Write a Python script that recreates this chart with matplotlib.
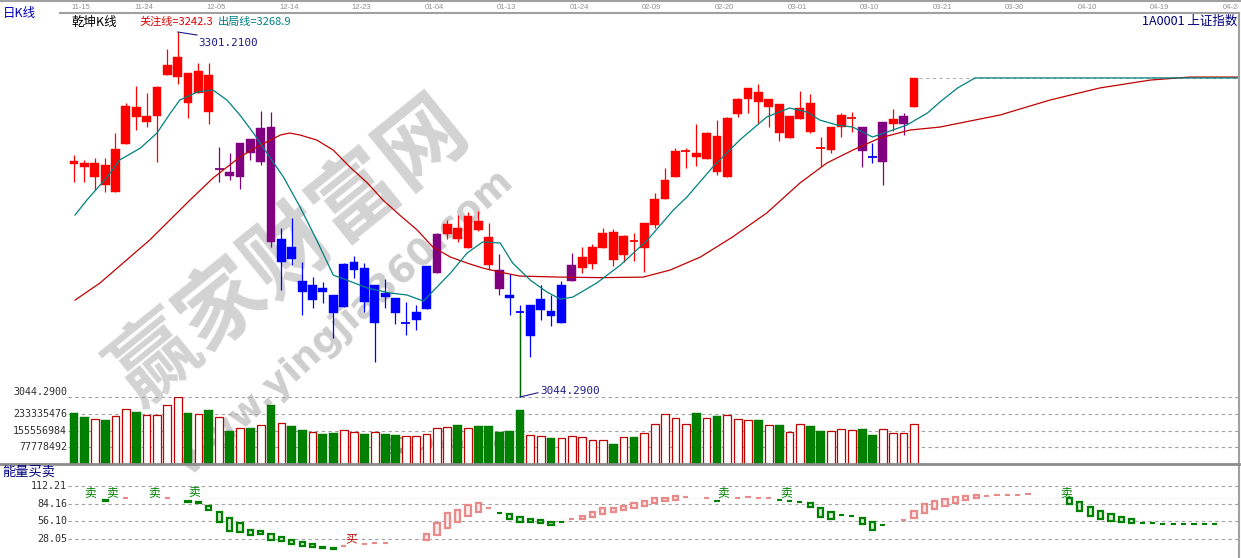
import numpy as np
import matplotlib
matplotlib.use("Agg")
import matplotlib.pyplot as plt
from matplotlib.patches import Rectangle
from matplotlib.lines import Line2D
from matplotlib.transforms import blended_transform_factory

plt.rcParams['font.family'] = ['Noto Sans CJK SC', 'DejaVu Sans']

# ---------------- data ----------------
date_labels = ['11-15', '11-24', '12-05', '12-14', '12-23', '01-04', '01-13', '01-24',
               '02-09', '02-20', '03-01', '03-10', '03-21', '03-30', '04-10', '04-19', '04-28']
date_step = 7

opens = [3210.4, 3209.0, 3199.1, 3207.6, 3188.6, 3222.4, 3248.4, 3237.9, 3242.1, 3271.0,
         3269.5, 3272.3, 3258.3, 3270.9, 3204.1, 3202.7, 3199.1, 3225.9, 3209.7, 3234.3,
         3139.3, 3149.9, 3125.9, 3112.5, 3121.0, 3116.1, 3107.6, 3133.7, 3135.1, 3096.3,
         3117.5, 3113.9, 3095.6, 3098.5, 3106.2, 3131.5, 3159.0, 3163.2, 3149.2, 3168.2,
         3156.9, 3133.7, 3116.1, 3104.8, 3087.2, 3105.5, 3104.8, 3096.3, 3126.0, 3135.1,
         3137.9, 3149.2, 3160.4, 3144.2, 3154.8, 3149.2, 3165.3, 3183.6, 3199.1, 3216.7,
         3216.0, 3211.8, 3228.0, 3199.1, 3243.5, 3254.0, 3259.0, 3248.4, 3250.6, 3226.6,
         3240.0, 3251.2, 3220.2, 3218.1, 3234.3, 3240.0, 3234.3, 3213.9, 3209.7, 3236.4,
         3236.4, 3248.4]
highs = [3214.6, 3211.1, 3212.5, 3212.5, 3230.1, 3251.2, 3263.2, 3258.3, 3263.2, 3289.2,
         3301.21, 3272.3, 3279.4, 3279.4, 3220.2, 3216.0, 3223.1, 3225.9, 3245.6, 3244.9,
         3163.2, 3170.3, 3139.3, 3128.7, 3125.2, 3116.1, 3138.6, 3143.5, 3138.6, 3123.1,
         3127.3, 3113.9, 3111.1, 3109.0, 3136.5, 3159.7, 3168.9, 3172.4, 3174.5, 3175.2,
         3166.7, 3144.9, 3130.8, 3109.0, 3109.0, 3123.1, 3116.1, 3125.9, 3145.6, 3149.9,
         3152.0, 3163.2, 3162.5, 3158.3, 3159.7, 3166.7, 3187.9, 3205.5, 3219.5, 3219.5,
         3236.4, 3230.8, 3239.3, 3241.4, 3254.7, 3261.8, 3264.6, 3254.0, 3250.6, 3242.1,
         3259.7, 3257.6, 3227.3, 3234.3, 3244.2, 3244.9, 3234.3, 3223.1, 3237.9, 3247.0,
         3244.2, 3268.9]
lows = [3195.6, 3195.6, 3190.0, 3188.6, 3188.6, 3222.4, 3232.2, 3234.3, 3209.7, 3271.0,
        3264.6, 3240.7, 3258.3, 3236.4, 3195.6, 3197.0, 3190.7, 3211.1, 3207.6, 3149.9,
        3119.6, 3137.2, 3102.0, 3106.9, 3110.4, 3085.8, 3107.6, 3128.0, 3104.1, 3068.9,
        3106.9, 3095.6, 3087.9, 3091.4, 3106.2, 3131.5, 3155.5, 3153.4, 3149.2, 3161.1,
        3133.7, 3116.1, 3102.0, 3044.29, 3072.4, 3098.5, 3094.2, 3096.3, 3126.0, 3131.5,
        3134.4, 3149.2, 3136.5, 3139.3, 3140.0, 3132.3, 3163.2, 3183.6, 3199.1, 3205.5,
        3206.9, 3211.8, 3200.5, 3199.1, 3241.4, 3244.2, 3237.1, 3234.3, 3224.5, 3226.6,
        3240.0, 3230.1, 3206.9, 3216.0, 3227.3, 3230.8, 3206.2, 3209.0, 3193.5, 3231.5,
        3228.7, 3248.4]
closes = [3208.3, 3206.2, 3209.0, 3193.5, 3218.8, 3249.1, 3241.4, 3242.1, 3262.5, 3278.0,
          3283.6, 3251.2, 3273.7, 3244.9, 3205.5, 3199.8, 3223.1, 3216.0, 3233.6, 3153.4,
          3155.5, 3141.4, 3118.2, 3123.1, 3118.2, 3103.4, 3137.9, 3139.3, 3111.1, 3123.1,
          3114.7, 3103.4, 3097.0, 3104.1, 3136.5, 3159.0, 3166.0, 3155.5, 3171.7, 3161.8,
          3137.2, 3120.3, 3113.9, 3103.4, 3109.0, 3113.2, 3101.3, 3123.1, 3137.2, 3142.8,
          3149.9, 3159.7, 3140.7, 3157.6, 3153.4, 3166.7, 3183.6, 3197.0, 3217.4, 3218.1,
          3213.2, 3230.1, 3202.7, 3240.7, 3254.0, 3261.8, 3251.9, 3254.0, 3230.1, 3242.1,
          3247.7, 3230.8, 3218.8, 3234.3, 3242.8, 3241.4, 3217.4, 3212.5, 3237.9, 3240.0,
          3242.1, 3268.9]
# r = red, p = purple, b = blue (乾坤K线 colouring)
k_colors = 'r' * 14 + 'p' * 6 + 'b' * 15 + 'p' + 'r' * 5 + 'p' + 'b' * 6 + 'p' + 'r' * 27 + 'pbprpr'

# volume, millions
volume = [238, 220, 209, 204, 224, 255, 243, 229, 229, 274,
          310, 238, 232, 251, 220, 155, 166, 166, 180, 272,
          190, 175, 160, 150, 140, 145, 160, 150, 140, 150,
          139, 135, 130, 130, 139, 166, 170, 181, 166, 176,
          176, 150, 155, 251, 135, 130, 119, 119, 130, 124,
          111, 111, 93, 124, 124, 143, 186, 232, 212, 186,
          238, 212, 223, 227, 207, 204, 204, 181, 181, 147,
          186, 176, 153, 153, 161, 158, 163, 135, 161, 143,
          143, 186]
vol_max = 311113968

# 关注线 / 出局线 (x in bar index)
focus_x = [0.1, 2.5, 7.3, 11.2, 13.4, 16.0, 17.6, 19.9, 20.8, 21.8, 23.4, 25.0, 26.6, 28.3,
           29.8, 31.4, 33.1, 34.6, 36.3, 37.9, 39.4, 41.1, 43.0, 46.9, 50.9, 54.9, 57.5,
           60.4, 63.5, 66.8, 70.0, 72.6, 75.1, 77.7, 80.6, 83.5, 89.3, 94.1, 98.9, 103.8,
           107.6, 112.25]
focus_y = [3112.5, 3124.5, 3154.8, 3183.0, 3198.4, 3213.2, 3220.2, 3228.7, 3230.1, 3228.7,
           3225.2, 3218.1, 3206.2, 3194.9, 3182.9, 3172.4, 3161.8, 3149.9, 3142.8, 3138.6,
           3135.1, 3132.2, 3129.4, 3128.7, 3128.3, 3128.7, 3133.7, 3142.8, 3156.9, 3173.8,
           3194.9, 3209.0, 3218.1, 3226.6, 3232.2, 3234.3, 3242.8, 3253.3, 3261.8, 3267.4,
           3269.5, 3269.5]
exit_x = [0.1, 1.25, 3.2, 4.4, 6.4, 8.0, 9.3, 10.2, 11.9, 13.4, 14.75, 16.0, 17.3, 19.2,
          20.2, 21.8, 23.4, 25.0, 26.3, 28.3, 30.5, 32.1, 33.7, 35.0, 36.3, 37.9, 39.4,
          41.1, 42.3, 44.0, 45.6, 46.9, 48.1, 50.4, 52.7, 55.3, 57.8, 59.1, 61.6, 64.2,
          66.8, 69.0, 70.7, 71.9, 73.6, 75.1, 77.0, 78.4, 80.3, 82.3, 83.5, 85.2, 86.9,
          112.25]
exit_y = [3172.4, 3183.0, 3199.1, 3211.1, 3219.5, 3230.1, 3244.2, 3253.3, 3259.0, 3260.4,
          3253.3, 3242.8, 3230.1, 3209.7, 3199.1, 3178.0, 3154.8, 3130.1, 3126.6, 3121.0,
          3117.5, 3116.1, 3111.8, 3121.7, 3131.5, 3145.6, 3153.4, 3152.7, 3138.6, 3126.6,
          3118.2, 3113.2, 3114.6, 3124.5, 3137.2, 3154.8, 3175.9, 3185.0, 3206.2, 3225.2,
          3241.4, 3247.7, 3244.9, 3239.3, 3235.7, 3234.3, 3227.3, 3230.8, 3235.7, 3244.2,
          3251.9, 3261.8, 3268.9, 3268.9]

# 能量买卖 bars: index, top, bottom, rising(1)/falling(0)
energy_idx = [3, 5, 9, 11, 12, 13, 14, 15, 16, 17, 18, 19, 20, 21, 22, 23, 24, 25, 26, 28,
              29, 30, 34, 35, 36, 37, 38, 39, 40, 41, 42, 43, 44, 45, 46, 47, 48, 49, 50,
              51, 52, 53, 54, 55, 56, 57, 58, 59, 61, 62, 64, 65, 66, 67, 68, 69, 70, 71,
              72, 73, 74, 75, 76, 77, 78, 80, 81, 82, 83, 84, 85, 86, 87, 88, 89, 90, 91,
              92, 96, 97, 98, 99, 100, 101, 102, 103, 104, 105, 106, 107, 108, 109, 110]
energy_top = [89.9, 93.0, 93.0, 88.3, 86.7, 80.3, 70.8, 61.3, 53.4, 42.3, 40.7, 36.0, 31.2,
              26.5, 23.3, 20.1, 15.4, 13.8, 17.0, 20.1, 21.7, 21.7, 36.0, 53.4, 69.3, 74.0,
              81.9, 85.1, 77.2, 69.3, 67.7, 62.9, 59.7, 58.2, 55.0, 55.0, 59.7, 64.5, 70.8,
              77.2, 77.2, 80.3, 85.1, 88.3, 93.0, 93.0, 96.2, 94.6, 93.0, 88.3, 93.0, 94.6,
              93.0, 93.0, 91.0, 88.8, 87.2, 85.1, 77.2, 70.8, 66.1, 64.5, 61.3, 55.0, 50.2,
              58.2, 72.4, 83.5, 88.3, 91.4, 94.6, 96.2, 97.8, 96.7, 98.9, 98.3, 98.9, 99.0,
              93.0, 86.7, 78.8, 72.4, 67.7, 62.9, 59.7, 53.9, 53.4, 52.6, 52.3, 52.3, 52.0,
              52.0, 52.0]
energy_bot = [88.9, 92.2, 92.2, 86.7, 85.1, 74.0, 55.0, 40.7, 39.1, 34.4, 36.0, 26.5, 24.9,
              20.1, 17.0, 15.4, 13.8, 12.2, 16.2, 19.3, 20.9, 20.9, 26.5, 34.4, 45.5, 55.0,
              64.5, 70.8, 76.4, 68.5, 59.7, 55.0, 55.0, 53.4, 50.2, 54.2, 58.9, 59.7, 62.9,
              67.7, 70.8, 74.0, 77.2, 80.3, 85.1, 88.3, 89.9, 93.8, 92.2, 87.5, 92.2, 93.8,
              92.2, 92.2, 90.2, 88.0, 86.4, 78.8, 62.9, 59.7, 65.3, 63.7, 51.8, 42.3, 49.4,
              57.4, 61.3, 69.3, 75.6, 80.3, 85.1, 89.9, 93.0, 95.9, 98.1, 97.5, 98.1, 98.2,
              83.5, 72.4, 64.5, 59.7, 56.6, 55.0, 53.4, 53.1, 52.6, 51.8, 51.5, 51.5, 51.2,
              51.2, 51.2]
energy_up = [0, 1, 1, 0, 0, 0, 0, 0, 0, 0, 0, 0, 0, 0, 0, 0, 0, 0, 1, 1,
             1, 1, 1, 1, 1, 1, 1, 1, 1, 0, 0, 0, 0, 0, 0, 0, 1, 1, 1,
             1, 1, 1, 1, 1, 1, 1, 1, 1, 1, 0, 1, 1, 1, 1, 0, 0, 0, 0,
             0, 0, 0, 0, 0, 0, 0, 1, 1, 1, 1, 1, 1, 1, 1, 1, 1, 1, 1,
             1, 0, 0, 0, 0, 0, 0, 0, 0, 0, 0, 0, 0, 0, 0, 0]
sell_x = [1.6, 3.7, 7.7, 11.6, 62.6, 68.7, 95.7]
sell_y = [102, 102, 102, 104, 102, 102, 102]
buy_x = [26.7]
buy_y = [28.1]
energy_levels = [112.21, 84.16, 56.10, 28.05]

# ---------------- layout (pixel boxes) ----------------
W, H = 1241, 558
X0, DX = 74.0, 10.37
XL = ((68 - X0) / DX, (1238 - X0) / DX)

fig = plt.figure(figsize=(W / 100, H / 100), dpi=100)
fig.patch.set_facecolor('white')


def px_axes(x0, y0, x1, y1):
    a = fig.add_axes([x0 / W, 1 - y1 / H, (x1 - x0) / W, (y1 - y0) / H])
    a.set_facecolor('none')
    a.set_xlim(XL)
    a.axis('off')
    return a


def ftext(x, y, s, **kw):
    return fig.text(x / W, 1 - y / H, s, **kw)


def fline(x0, y0, x1, y1, **kw):
    fig.add_artist(Line2D([x0 / W, x1 / W], [1 - y0 / H, 1 - y1 / H],
                          transform=fig.transFigure, **kw))


ax_d = px_axes(68, 0, 1238, 13)
ax_d.set_ylim(0, 1)
ax_k = px_axes(68, 13, 1238, 397)
ax_k.set_ylim(3044.29, 3314.6)
ax_v = px_axes(68, 397, 1238, 464)
ax_v.set_ylim(0, vol_max)
ax_e = px_axes(68, 464, 1238, 558)
ax_e.set_ylim(-2.06, 146.9)

# frame lines
fline(0, 0.8, W, 0.8, color='#a0a0a0', lw=1.5)
fline(60, 13.3, 1238.5, 13.3, color='#a0a0a0', lw=1.5)
fline(1238.5, 13.3, 1238.5, H, color='#a0a0a0', lw=1.5)
fline(0, 463.5, 1238.5, 463.5, color='#8c8c8c', lw=2)

# watermark (behind everything)
ftext(290, 252, '赢家财富网', fontsize=62, fontweight='bold', color='#d3d3d3',
      rotation=39, ha='center', va='center', zorder=-2)
ftext(346, 322, 'www.yingjia360.com', fontsize=27, fontweight='bold', color='#cecece',
      family='DejaVu Sans', rotation=42, ha='center', va='center', zorder=-2)
ftext(447, 446, 'QQ:1008000360', fontsize=13, fontweight='bold', color='#505050',
      alpha=0.55, family='Liberation Sans', ha='center', va='center', zorder=-2)

# date labels
for n, lab in enumerate(date_labels):
    i = n * date_step
    if n == 0:
        ax_d.text((71 - X0) / DX, 0.46, lab, ha='left', va='center', fontsize=5.5,
                  family='Liberation Sans', color='#909090', clip_on=True)
    else:
        ax_d.text(i - 0.29, 0.46, lab, ha='center', va='center', fontsize=5.5,
                  family='Liberation Sans', color='#909090', clip_on=True)

# header texts
ftext(3, 13, '日K线', fontsize=9, color='#0000b4', va='center')
ftext(71, 22, '乾坤K线', fontsize=9, color='black', va='center')
ftext(139, 22, '关注线=3242.3', fontsize=8, color='#e00000', va='center')
ftext(218, 22, '出局线=3268.9', fontsize=8, color='#008080', va='center')
ftext(1237, 21, '1A0001 上证指数', fontsize=9, color='#000080', ha='right', va='center')
ftext(2, 472, '能量买卖', fontsize=9.5, color='#000080', va='center')

# ---------------- candles ----------------
cmap = {'r': '#ff0000', 'b': '#0000ff', 'p': '#800080'}
bw = 0.85
for i in range(len(opens)):
    col = cmap[k_colors[i]]
    ax_k.vlines(i, lows[i], highs[i], color=col, lw=0.9, zorder=2, clip_on=False)
    lo_b, hi_b = min(opens[i], closes[i]), max(opens[i], closes[i])
    if hi_b - lo_b < 1.6:
        ax_k.hlines((lo_b + hi_b) / 2, i - bw / 2, i + bw / 2, color=col, lw=1.3, zorder=2)
    else:
        ax_k.add_patch(Rectangle((i - bw / 2, lo_b), bw, hi_b - lo_b, fc=col, ec=col,
                                 lw=0.3, zorder=2))

ax_k.plot(focus_x, focus_y, color='#c00000', lw=0.9, zorder=3)
ax_k.plot(exit_x, exit_y, color='#008080', lw=0.9, zorder=3)
ax_k.hlines(closes[-1], len(opens) - 0.5, XL[1], color='#b0b0b0', lw=0.8,
            linestyles=(0, (3, 3)), zorder=1)

# high / low marks
hi_i = int(np.argmax(highs))
lo_i = int(np.argmin(lows))
ax_k.plot([hi_i, hi_i + 1.86], [highs[hi_i], highs[hi_i] - 2.1], color='#1c1c8c', lw=0.8)
ax_k.text(hi_i + 1.96, highs[hi_i] - 7.7, '%.4f' % highs[hi_i], fontsize=7.9,
          family='DejaVu Sans Mono', color='#1c1c8c', va='center', ha='left')
ax_k.vlines(lo_i, lows[lo_i], min(opens[lo_i], closes[lo_i]), color='#006400', lw=0.9,
            zorder=2, clip_on=False)
ax_k.plot([lo_i, lo_i + 1.74], [lows[lo_i], lows[lo_i] + 3.0], color='#1c1c8c', lw=0.8,
          clip_on=False)
ax_k.text(lo_i + 1.94, lows[lo_i] + 4.2, '%.4f' % lows[lo_i], fontsize=7.9,
          family='DejaVu Sans Mono', color='#1c1c8c', va='center', ha='left')

# ---------------- volume ----------------
lab_kw = dict(family='DejaVu Sans Mono', fontsize=7.2, color='#303030', ha='right')
tv = blended_transform_factory(fig.transFigure, ax_v.transData)
dash = (0, (3, 3))
ax_v.hlines(vol_max, XL[0], XL[1], color='#a0a0a0', lw=0.8, linestyles=dash)
ax_v.text(67 / W, vol_max, '3044.2900', transform=tv, va='bottom', **lab_kw)
for k in (3, 2, 1):
    lv = vol_max // 4 * k
    ax_v.hlines(lv, XL[0], XL[1], color='#a0a0a0', lw=0.8, linestyles=dash)
    ax_v.text(67 / W, lv, str(lv), transform=tv, va='center', **lab_kw)

for i, v in enumerate(volume):
    v = v * 1e6
    if closes[i] >= opens[i]:
        ax_v.add_patch(Rectangle((i - bw / 2 + 0.05, 0), bw - 0.1, v, fc='white',
                                 ec='#c00000', lw=0.9, zorder=2))
    else:
        ax_v.add_patch(Rectangle((i - bw / 2, 0), bw, v, fc='#008000', ec='#007000',
                                 lw=0.3, zorder=2))

# ---------------- 能量买卖 ----------------
te = blended_transform_factory(fig.transFigure, ax_e.transData)
for lv in energy_levels:
    ax_e.hlines(lv, XL[0], XL[1], color='#a0a0a0', lw=0.8, linestyles=dash)
    ax_e.text(67 / W, lv, '%.2f' % lv, transform=te, va='center', **lab_kw)
ax_e.hlines(93.0, 12, XL[1], color='#e6e6e6', lw=0.8, linestyles=(0, (1, 2)))

ew = 0.5
for i, t, b, up in zip(energy_idx, energy_top, energy_bot, energy_up):
    ec = '#e88a8a' if up else '#008000'
    fc = '#fdeaea' if up else '#d8ecd8'
    if t - b < 1.0:
        ax_e.hlines((t + b) / 2, i - ew / 2, i + ew / 2, color=ec, lw=1.5, zorder=2)
    else:
        ax_e.add_patch(Rectangle((i - ew / 2, b), ew, t - b, fc=fc, ec=ec, lw=1.6, zorder=2))

for x, y in zip(sell_x, sell_y):
    ax_e.text(x, y, '卖', fontsize=8.5, color='#008000', ha='center', va='center', zorder=3)
for x, y in zip(buy_x, buy_y):
    ax_e.text(x, y, '买', fontsize=8.5, color='#c00000', ha='center', va='center', zorder=3)

fig.savefig('out.png', dpi=100, facecolor='white')
